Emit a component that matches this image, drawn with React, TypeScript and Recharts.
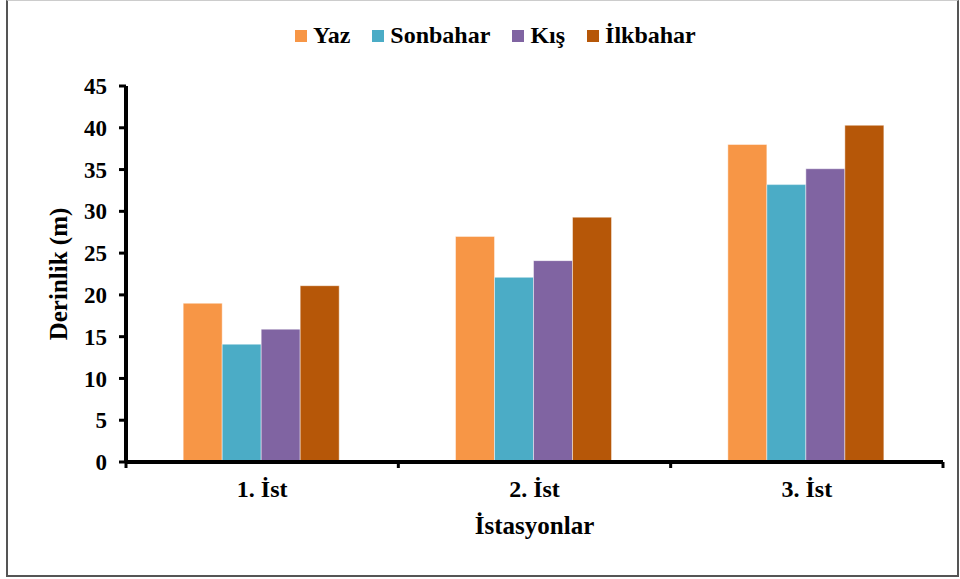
import { BarChart, Bar, XAxis, YAxis } from "recharts";

const stations = ["1. İst", "2. İst", "3. İst"];
const yaz = [19.0, 27.0, 38.0];
const sonbahar = [14.1, 22.1, 33.2];
const kis = [15.9, 24.1, 35.1];
const ilkbahar = [21.1, 29.3, 40.3];
const yTicks = [0, 5, 10, 15, 20, 25, 30, 35, 40, 45];

const series = [
  { key: "yaz", name: "Yaz", color: "#F79646" },
  { key: "sonbahar", name: "Sonbahar", color: "#4BACC6" },
  { key: "kis", name: "Kış", color: "#8064A2" },
  { key: "ilkbahar", name: "İlkbahar", color: "#B65708" },
];

const data = stations.map((s, i) => ({
  station: s,
  yaz: yaz[i],
  sonbahar: sonbahar[i],
  kis: kis[i],
  ilkbahar: ilkbahar[i],
}));

const W = 960;
const H = 579;
const margin = { top: 86, right: 17, bottom: 42, left: 0 };
const yAxisWidth = 126;
const band = (W - yAxisWidth - margin.right) / stations.length;
const font = '"Liberation Serif", "Times New Roman", serif';

// eslint-disable-next-line @typescript-eslint/no-explicit-any
function StationTick({ x, y, payload, index }: any) {
  return (
    <g>
      {index === 0 && (
        <line x1={x - band / 2} x2={x - band / 2} y1={y} y2={y + 6} stroke="#000" strokeWidth={3} />
      )}
      <line x1={x + band / 2} x2={x + band / 2} y1={y} y2={y + 6} stroke="#000" strokeWidth={3} />
      <text x={x} y={y + 35} textAnchor="middle" fontFamily={font} fontWeight="bold" fontSize={24} fill="#000">
        {payload.value}
      </text>
    </g>
  );
}

export default function App() {
  return (
    <div style={{ position: "absolute", left: 0, top: 0, width: W, height: H, background: "#fff" }}>
      <div
        style={{
          position: "absolute",
          left: 6,
          top: 0,
          width: 949,
          height: 574,
          borderLeft: "2px solid #555",
          borderRight: "2px solid #555",
          borderBottom: "2px solid #555",
          borderTop: "1px solid #ccc",
        }}
      />
      <div
        style={{
          position: "absolute",
          left: 295,
          top: 22,
          display: "flex",
          alignItems: "center",
          fontFamily: font,
          fontWeight: "bold",
          fontSize: 24,
          color: "#000",
        }}
      >
        {series.map((s) => (
          <div key={s.key} style={{ display: "flex", alignItems: "center", marginRight: 22 }}>
            <span style={{ width: 12, height: 12, background: s.color, marginRight: 6, display: "inline-block" }} />
            <span>{s.name}</span>
          </div>
        ))}
      </div>
      <BarChart
        width={W}
        height={H}
        data={data}
        margin={margin}
        barCategoryGap="21%"
        barGap={0}
        style={{ position: "absolute", left: 0, top: 0 }}
      >
        <XAxis
          dataKey="station"
          height={75}
          axisLine={{ stroke: "#000", strokeWidth: 4 }}
          tickLine={false}
          tickSize={0}
          tickMargin={0}
          tick={<StationTick />}
          label={{
            value: "İstasyonlar",
            position: "insideBottom",
            offset: 3,
            style: { fontFamily: font, fontWeight: "bold", fontSize: 25, fill: "#000" },
          }}
        />
        <YAxis
          width={yAxisWidth}
          domain={[0, 45]}
          ticks={yTicks}
          interval={0}
          axisLine={{ stroke: "#000", strokeWidth: 4 }}
          tickLine={{ stroke: "#000", strokeWidth: 3 }}
          tickSize={7}
          tickMargin={12}
          tick={{ fontFamily: font, fontWeight: "bold", fontSize: 23, fill: "#000" }}
          label={{
            value: "Derinlik (m)",
            angle: -90,
            position: "center",
            dx: -5,
            style: { fontFamily: font, fontWeight: "bold", fontSize: 25, fill: "#000" },
          }}
        />
        {series.map((s) => (
          <Bar
            key={s.key}
            dataKey={s.key}
            name={s.name}
            fill={s.color}
            stroke="#ffffff"
            strokeOpacity={0.45}
            strokeWidth={1}
            isAnimationActive={false}
          />
        ))}
      </BarChart>
    </div>
  );
}
